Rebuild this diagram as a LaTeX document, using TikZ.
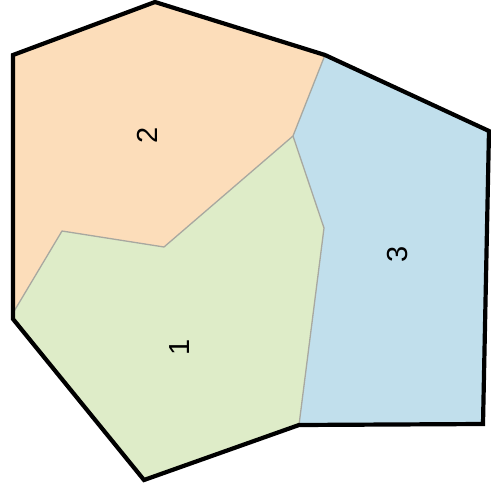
\documentclass[tikz,border=0pt]{standalone}
\usepackage{fontspec}
\setmainfont{Liberation Sans}
\definecolor{zonegreen}{RGB}{222,236,200}
\definecolor{zoneorange}{RGB}{252,221,186}
\definecolor{zoneblue}{RGB}{193,223,236}
\definecolor{edgegray}{RGB}{168,168,160}

\begin{document}
\begin{tikzpicture}[
  x=1pt, y=-1pt,
  inner/.style={draw=edgegray, line width=1.3pt, line join=round},
  outer/.style={draw=black, line width=4.2pt, line join=miter},
  zonenum/.style={rotate=90, font=\fontsize{29}{29}\selectfont}
]
  \useasboundingbox (0,0) rectangle (491,491);

  % outer corners
  \coordinate (tl) at (13,55);
  \coordinate (top) at (155,2);
  \coordinate (tr) at (325,55);
  \coordinate (rt) at (489,131);
  \coordinate (br) at (483,424);
  \coordinate (bm) at (299,425);
  \coordinate (bot) at (144,480);
  \coordinate (bl) at (13,319);

  % inner corners
  \coordinate (mid) at (293,136);
  \coordinate (kink) at (324,228);
  \coordinate (notch) at (164,247);
  \coordinate (lip) at (62,231);
  \coordinate (lft) at (13,313);

  % zones
  \fill[zoneorange] (tl) -- (top) -- (tr) -- (mid) -- (notch) -- (lip) -- (lft) -- cycle;
  \fill[zoneblue] (tr) -- (rt) -- (br) -- (bm) -- (kink) -- (mid) -- cycle;
  \fill[zonegreen] (mid) -- (kink) -- (bm) -- (bot) -- (bl) -- (lft) -- (lip) -- (notch) -- cycle;

  % boundaries
  \draw[inner] (tr) -- (mid) -- (kink) -- (bm);
  \draw[inner] (mid) -- (notch) -- (lip) -- (lft);
  \draw[outer] (tl) -- (top) -- (tr) -- (rt) -- (br) -- (bm) -- (bot) -- (bl) -- cycle;

  \node (n2) [zonenum] at (147,135) {2};
  \node (n1) [zonenum] at (180,347) {1};
  \node (n3) [zonenum] at (398,254) {3};
\end{tikzpicture}
\end{document}
